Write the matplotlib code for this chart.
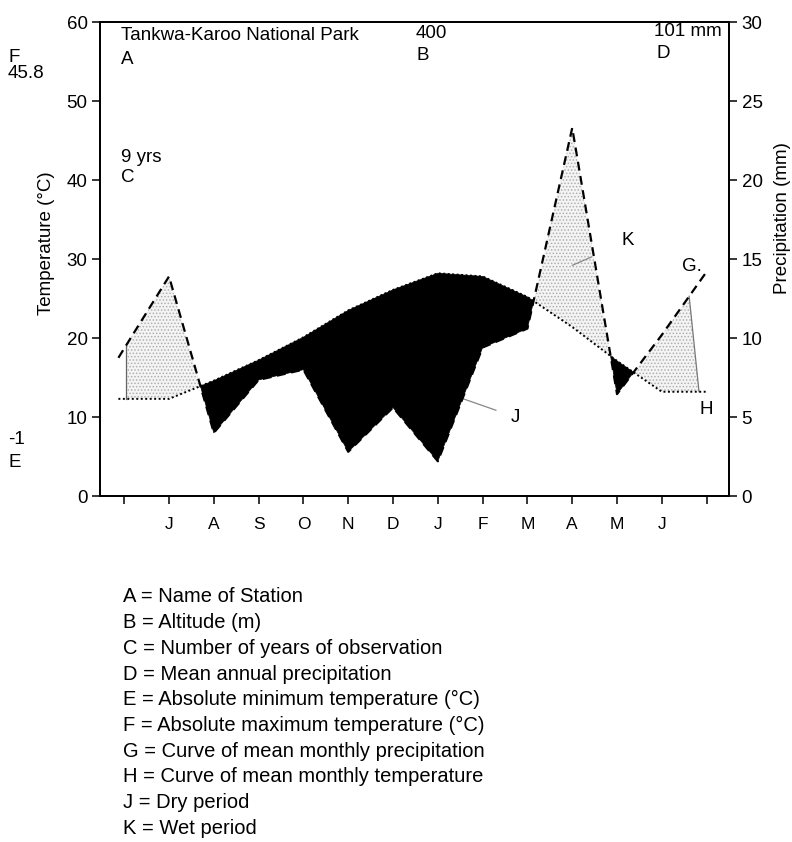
import matplotlib.pyplot as plt
from matplotlib.patches import Polygon
import numpy as np

plt.rcParams['font.family'] = ['Liberation Sans', 'DejaVu Sans']
plt.rcParams['hatch.color'] = '#b0b0b0'
plt.rcParams['hatch.linewidth'] = 0.7

# month positions (tick index), the year is wrapped: J(uly) ... J(une), J(uly)
month_x = [-0.13, 1, 2, 3, 4, 5, 6, 7, 8, 9, 10, 11, 12, 13]
month_labels = ['', 'J', 'A', 'S', 'O', 'N', 'D', 'J', 'F', 'M', 'A', 'M', 'J', '']
temp_c = [12.3, 12.3, 14.6, 17.2, 20.1, 23.5, 26.1, 28.2, 27.8, 25.2, 21.4, 17.1, 13.2, 13.2]
precip_mm = [8.75, 13.9, 4.0, 7.35, 8.0, 2.8, 5.6, 2.2, 9.4, 10.6, 23.3, 6.45, 10.2, 14.2]

# limits of the stippled (wet) zone, in month index
wet_left = 0.045
wet_right_top = 12.61
wet_right_bot = 12.83

legend_lines = [
    "A = Name of Station",
    "B = Altitude (m)",
    "C = Number of years of observation",
    "D = Mean annual precipitation",
    "E = Absolute minimum temperature (\u00b0C)",
    "F = Absolute maximum temperature (\u00b0C)",
    "G = Curve of mean monthly precipitation",
    "H = Curve of mean monthly temperature",
    "J = Dry period",
    "K = Wet period",
]

x = np.array(month_x)
t = np.array(temp_c)
p2 = np.array(precip_mm) * 2  # 1 mm = 2 degC (Walter-Lieth)

fig = plt.figure(figsize=(7.92, 8.42), dpi=100)
ax = fig.add_axes([0.1263, 0.4109, 0.7942, 0.5629])
ax.set_xlim(-0.54, 13.5)
ax.set_ylim(0, 60)
ax2 = ax.twinx()
ax2.set_ylim(0, 30)

# dry period
ax.fill_between(x, p2, t, where=t > p2, interpolate=True, facecolor='black',
                edgecolor='black', linewidth=0.5, zorder=2)

# wet period, stippled
wet = ax.fill_between(x, t, p2, where=p2 >= t, interpolate=True, facecolor='#f4f4f4',
                      edgecolor='#b0b0b0', linewidth=0, hatch='.....', zorder=1)
yt = np.interp(wet_right_top, x, p2)
yb = np.interp(wet_right_bot, x, t)
k = (wet_right_bot - wet_right_top) / (yt - yb)
clip = Polygon([(wet_left, -5), (wet_left, 65),
                (wet_right_top - k * (65 - yt), 65), (wet_right_top + k * (yt + 5), -5)],
               closed=True, transform=ax.transData)
wet.set_clip_path(clip)
ax.plot([wet_left, wet_left], [np.interp(wet_left, x, t), np.interp(wet_left, x, p2)],
        color='#666666', lw=0.9, zorder=3)
ax.plot([wet_right_top, wet_right_bot], [yt, yb], color='#777777', lw=0.9, zorder=3)

# curves
ax.plot(x, t, color='black', lw=1.4, linestyle=(0, (1, 1.3)), zorder=4)
ax2.plot(x, precip_mm, color='black', lw=1.6, linestyle=(0, (4, 2.5)), zorder=4)

for a in (ax, ax2):
    for s in a.spines.values():
        s.set_linewidth(1.3)
ax.set_xticks(range(len(month_labels)))
ax.set_xticklabels(month_labels)
ax.set_yticks(np.arange(0, 61, 10))
ax2.set_yticks(np.arange(0, 31, 5))
ax.tick_params(axis='x', length=6, width=1.1, pad=9, labelsize=12.5)
ax.tick_params(axis='y', length=6, width=1.1, pad=3, labelsize=13.5)
ax2.tick_params(axis='y', length=6, width=1.1, pad=3, labelsize=13.5)
ax.set_ylabel("Temperature (\u00b0C)", fontsize=13.5)
ax2.set_ylabel("Precipitation (mm)", fontsize=13.5)
ax.yaxis.set_label_coords(-0.071, 0.534)
ax2.yaxis.set_label_coords(1.0715, 0.586)

# labels on the curves
ax.annotate('J', xy=(7.57, 12.3), xytext=(8.73, 10.0), fontsize=13.5, ha='center', va='center',
            arrowprops=dict(arrowstyle='-', color='#888888', lw=0.9, shrinkB=0, shrinkA=9), zorder=5)
ax.annotate('K', xy=(10.0, 29.2), xytext=(11.25, 32.3), fontsize=13.5, ha='center', va='center',
            arrowprops=dict(arrowstyle='-', color='#888888', lw=0.9, shrinkB=0, shrinkA=22), zorder=5)
ax.text(12.68, 29.0, 'G.', fontsize=13.5, ha='center', va='center')
ax.text(13.0, 10.9, 'H', fontsize=13.5, ha='center', va='center')

# station info
W, H = 792, 842
def ftxt(px, py, s, ha='left'):
    fig.text(px / W, 1 - py / H, s, fontsize=13.5, ha=ha, va='center')

ftxt(121, 36, "Tankwa-Karoo National Park")
ftxt(121, 59, "A")
ftxt(416, 33, "400")
ftxt(417, 55, "B")
ftxt(654, 32, "101 mm")
ftxt(657, 53, "D")
ftxt(121, 158, "9 yrs")
ftxt(121, 177, "C")
ftxt(8, 58, "F")
ftxt(8, 74, "45.8")
ftxt(8, 440, "-1")
ftxt(8, 462, "E")

for i, line in enumerate(legend_lines):
    fig.text(123 / W, 1 - (597 + i * 25.7) / H, line, fontsize=14.5, ha='left', va='center')

fig.savefig('out.png', dpi=100)
